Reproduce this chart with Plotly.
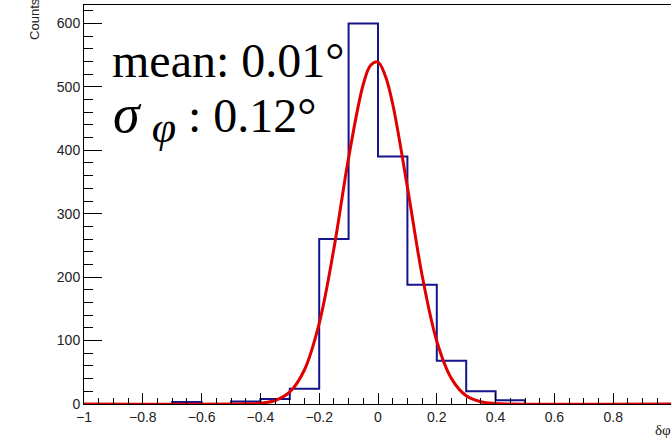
import plotly.graph_objects as go

# histogram: bin edges and counts (bin width 0.1)
bin_edges = [-1.0, -0.9, -0.8, -0.7, -0.6, -0.5, -0.4, -0.3, -0.2, -0.1, 0.0,
             0.1, 0.2, 0.3, 0.4, 0.5, 0.6, 0.7, 0.8, 0.9, 1.0]
counts = [0, 0, 0, 3, 0, 4, 8, 24, 260, 600, 390, 188, 68, 20, 6, 0, 0, 0, 0, 0]

# gaussian fit curve
fit_x = [-1.0, -0.45, -0.4, -0.35, -0.3, -0.25, -0.2, -0.15, -0.1, -0.05, -0.025,
         0.0, 0.025, 0.05, 0.1, 0.15, 0.2, 0.25, 0.3, 0.35, 0.4, 0.45, 1.0]
fit_y = [0, 0.2, 1.3, 5.5, 19, 54, 127, 245, 388, 504, 534,
         539, 517, 473, 342, 203, 99, 40, 13, 3.6, 0.8, 0.1, 0]

mean_txt = "mean: 0.01°"
sigma_txt = ("<span style='font-size:54px'><i>σ</i></span> "
             "<sub><span style='font-size:44px'><i>φ</i></span></sub> : 0.12°")

# step outline like ROOT: repeat last count so the final edge is drawn
step_y = counts + [counts[-1]]

fig = go.Figure()
fig.add_trace(go.Scatter(x=bin_edges, y=step_y, mode="lines", line_shape="hv",
                         line=dict(color="#14148c", width=2), hoverinfo="skip"))
fig.add_trace(go.Scatter(x=fit_x, y=fit_y, mode="lines", line_shape="spline",
                         line=dict(color="#e00000", width=3), hoverinfo="skip"))

axfont = dict(family="Liberation Sans, Arial, sans-serif", size=14, color="#222")
fig.update_layout(
    width=671, height=442,
    margin=dict(l=84, r=0, t=5, b=38),
    paper_bgcolor="white", plot_bgcolor="white",
    showlegend=False,
    xaxis=dict(range=[-1, 0.9966], showgrid=False, zeroline=False, automargin=False,
               showline=True, linecolor="black", linewidth=1, mirror=True,
               ticks="inside", ticklen=11, tickwidth=1, tickcolor="black",
               tick0=-1, dtick=0.2, tickfont=axfont,
               minor=dict(ticks="inside", ticklen=6, dtick=0.05, tickcolor="black")),
    yaxis=dict(range=[0, 629], showgrid=False, zeroline=False, automargin=False,
               showline=True, linecolor="black", linewidth=1,
               ticks="inside", ticklen=18, tickwidth=1, tickcolor="black",
               dtick=100, tickfont=axfont,
               minor=dict(ticks="inside", ticklen=9, dtick=20, tickcolor="black")),
)

serif = dict(family="Liberation Serif, Times New Roman, serif", size=48, color="black")
fig.add_annotation(x=0.044, y=0.86, xref="paper", yref="paper", text=mean_txt,
                   showarrow=False, xanchor="left", yanchor="middle", font=serif)
fig.add_annotation(x=0.046, y=0.718, xref="paper", yref="paper", text=sigma_txt,
                   showarrow=False, xanchor="left", yanchor="middle", font=serif)
fig.add_annotation(x=-0.0835, y=0.965, xref="paper", yref="paper", text="Counts",
                   textangle=-90, showarrow=False, xanchor="center", yanchor="middle",
                   font=dict(family="Liberation Sans, Arial", size=13, color="#222"))
fig.add_annotation(x=1.004, y=-0.09, xref="paper", yref="paper", text="δφ",
                   showarrow=False,
                   font=dict(family="Liberation Serif, Times New Roman", size=15, color="#222"))

# drop the browser's default body margin so the figure sits at the page corner
fig.write_html("out.html", config={"displayModeBar": False},
               post_script="document.body.style.margin='0';")
